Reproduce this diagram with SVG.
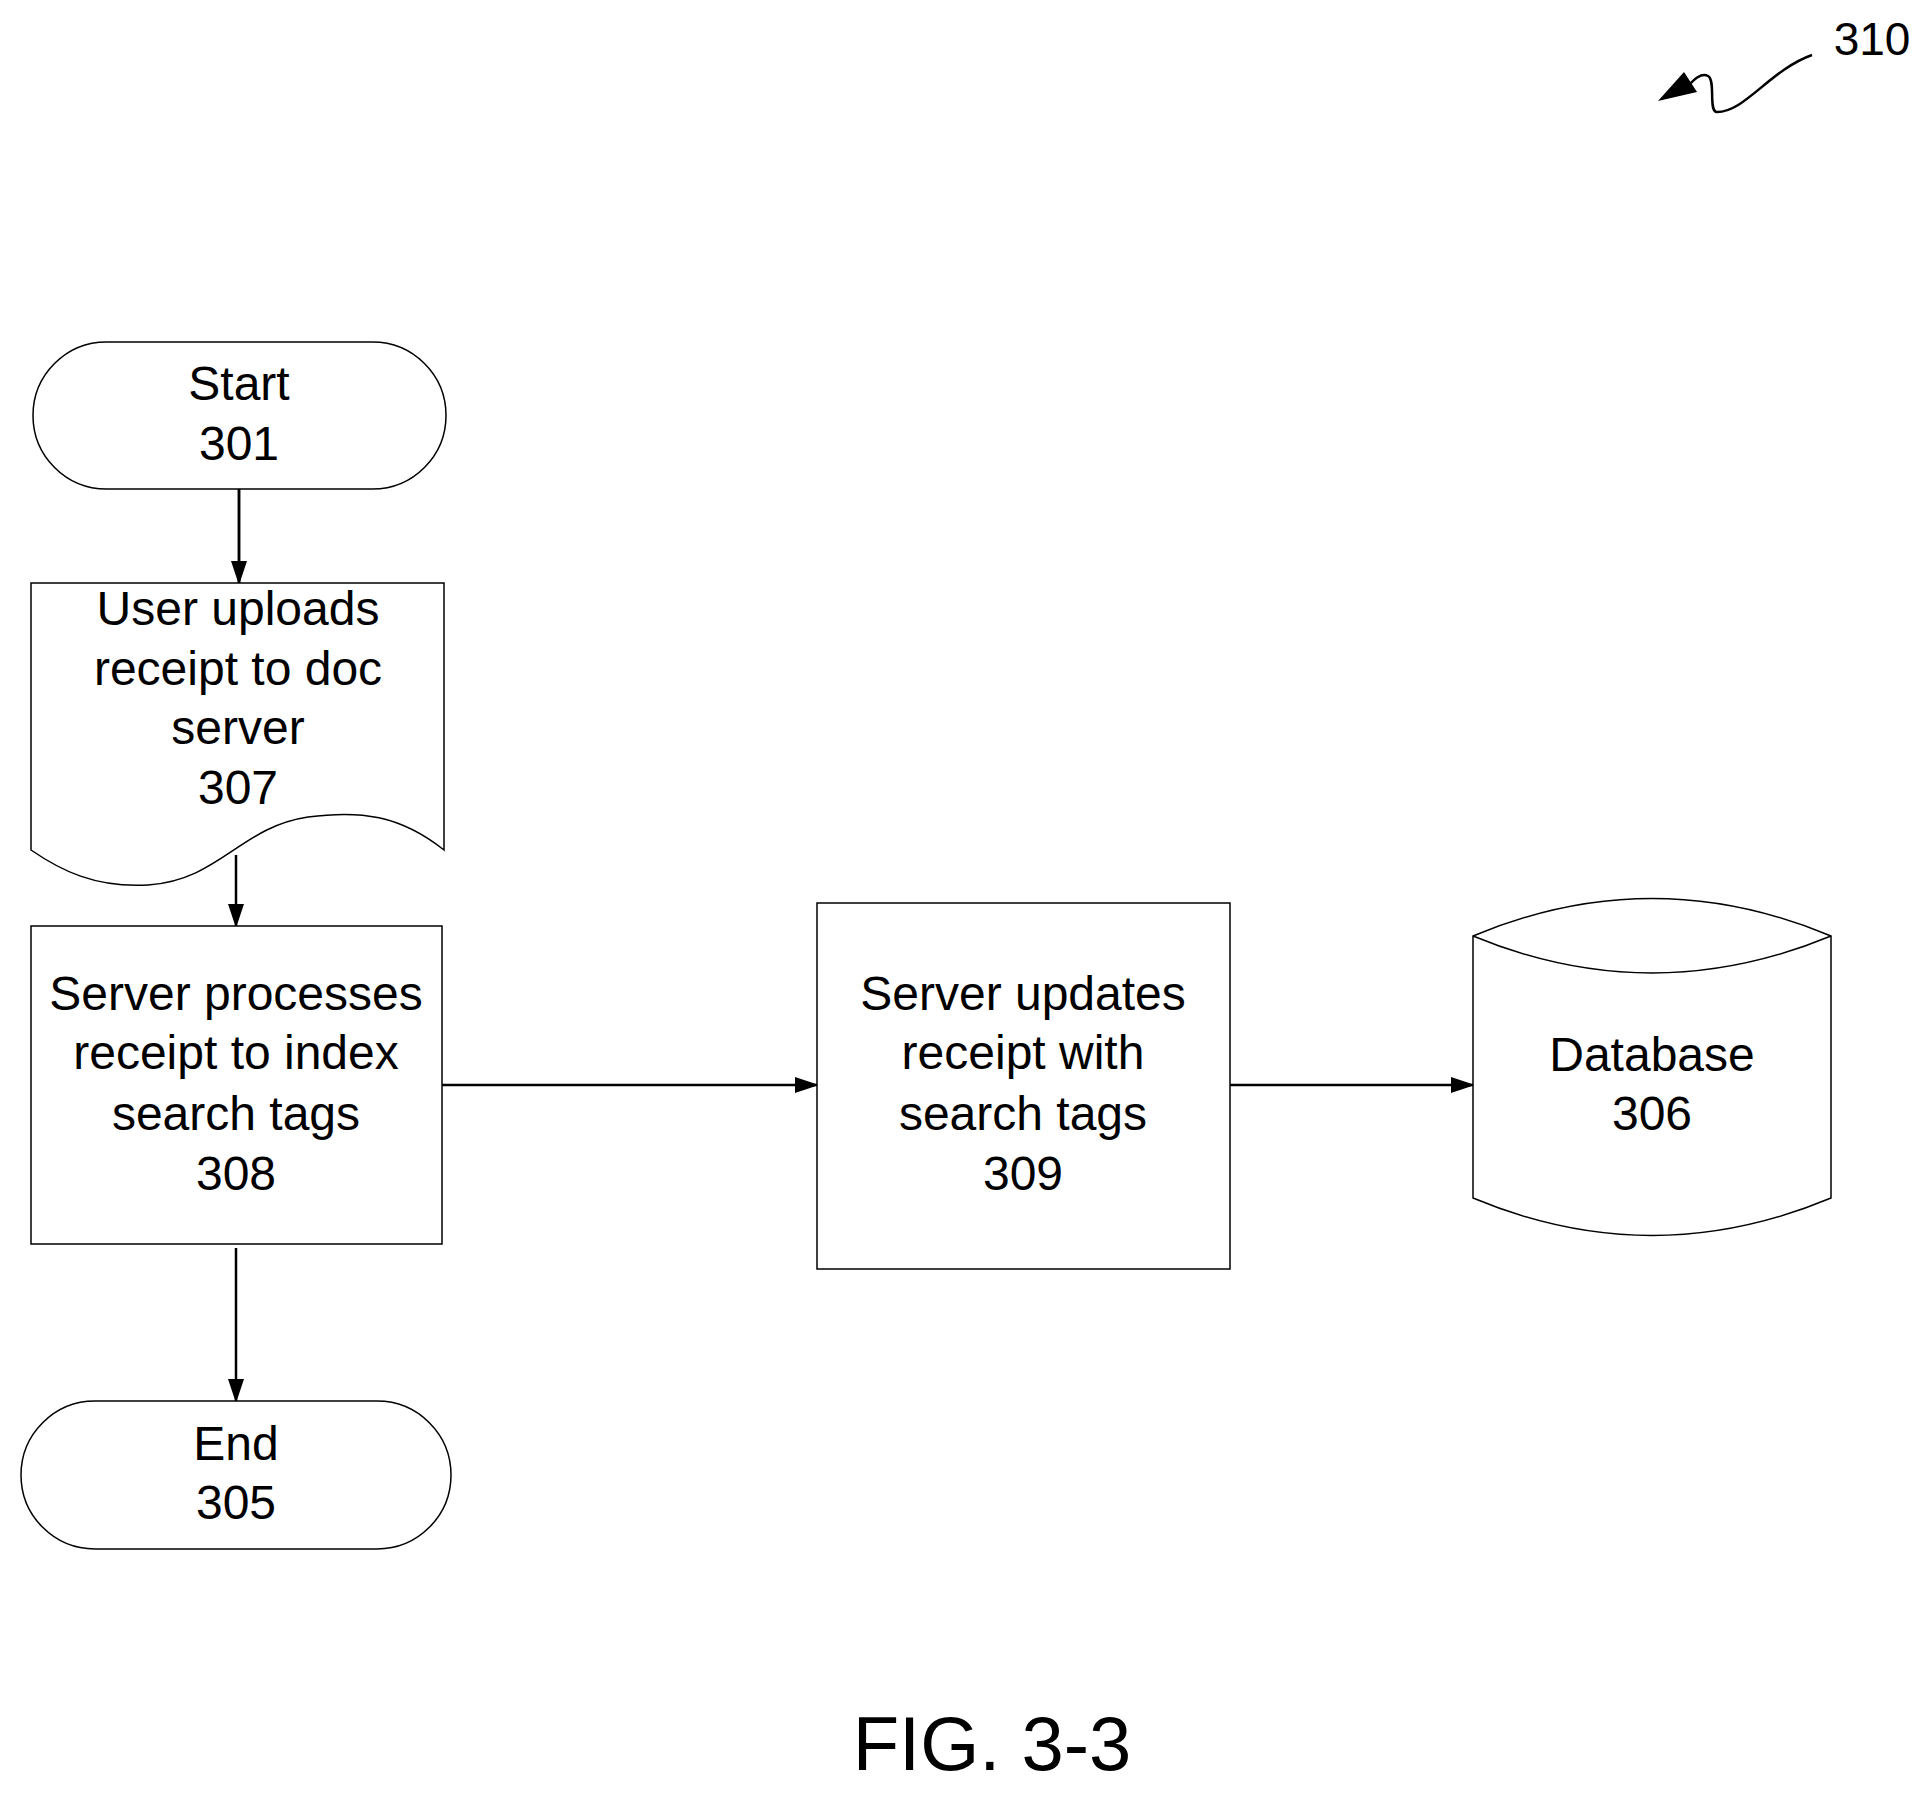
<svg xmlns="http://www.w3.org/2000/svg" width="1932" height="1795" viewBox="0 0 1932 1795">
<style>
.s{fill:#fff;stroke:#000;stroke-width:1.5}
.t{font-family:"Liberation Sans",Arial,sans-serif;font-size:48px;text-anchor:middle;fill:#000}
.c{stroke:#000;stroke-width:2.5;fill:none;marker-end:url(#a)}
</style>
<defs><marker id="a" markerWidth="12" markerHeight="12" refX="11" refY="6" orient="auto" markerUnits="userSpaceOnUse" viewBox="0 0 12 12"><path d="M0,0 L12,6 L0,12 Z" fill="#000"/></marker>
<marker id="b" markerWidth="24" markerHeight="24" refX="22" refY="12" orient="auto" markerUnits="userSpaceOnUse" viewBox="0 0 24 24"><path d="M0,4 L24,12 L0,20 Z" fill="#000"/></marker></defs>
<rect width="1932" height="1795" fill="#fff"/>
<g id="connectors">
<line class="c" x1="239" y1="489" x2="239" y2="583" style="marker-end:none"/>
<path d="M239,489 L239,583" stroke="#000" stroke-width="2.5" marker-end="url(#b)"/>
<path d="M236,855 L236,926" stroke="#000" stroke-width="2.5" marker-end="url(#b)"/>
<path d="M442,1085 L817,1085" stroke="#000" stroke-width="2.5" marker-end="url(#b)"/>
<path d="M1230,1085 L1473,1085" stroke="#000" stroke-width="2.5" marker-end="url(#b)"/>
<path d="M236,1248 L236,1401" stroke="#000" stroke-width="2.5" marker-end="url(#b)"/>
</g>
<g id="n301"><rect class="s" x="33" y="342" width="413" height="147" rx="73.5"/><text class="t" x="239" y="400">Start</text><text class="t" x="239" y="460">301</text></g>
<g id="n307"><path class="s" d="M31,583 L444,583 L444,850 C400,815 360,810 308,817 C240,827 220,880 148,885 C95,888 60,870 31,850 Z"/><text class="t" x="238" y="625">User uploads</text><text class="t" x="238" y="685">receipt to doc</text><text class="t" x="238" y="744">server</text><text class="t" x="238" y="804">307</text></g>
<g id="n308"><rect class="s" x="31" y="926" width="411" height="318"/><text class="t" x="236" y="1010">Server processes</text><text class="t" x="236" y="1069">receipt to index</text><text class="t" x="236" y="1130">search tags</text><text class="t" x="236" y="1190">308</text></g>
<g id="n309"><rect class="s" x="817" y="903" width="413" height="366"/><text class="t" x="1023" y="1010">Server updates</text><text class="t" x="1023" y="1069">receipt with</text><text class="t" x="1023" y="1130">search tags</text><text class="t" x="1023" y="1190">309</text></g>
<g id="n306"><path class="s" d="M1473,936 Q1652,861 1831,936 L1831,1198 Q1652,1273 1473,1198 Z"/><path class="s" fill="none" d="M1473,936 Q1652,1010 1831,936"/><text class="t" x="1652" y="1071">Database</text><text class="t" x="1652" y="1130">306</text></g>
<g id="n305"><rect class="s" x="21" y="1401" width="430" height="148" rx="74"/><text class="t" x="236" y="1460">End</text><text class="t" x="236" y="1519">305</text></g>
<g id="ref310"><path d="M1812,55 C1770,70 1745,112 1717,112 C1708,112 1716,80 1708,76 C1700,72 1692,82 1686,88" fill="none" stroke="#000" stroke-width="2.5"/><path d="M1658,101 L1684,72 L1697,92 Z" fill="#000"/><text class="t" x="1872" y="55" style="font-size:46px">310</text></g>
<text class="t" x="992" y="1770" style="font-size:76px">FIG. 3-3</text>
</svg>
